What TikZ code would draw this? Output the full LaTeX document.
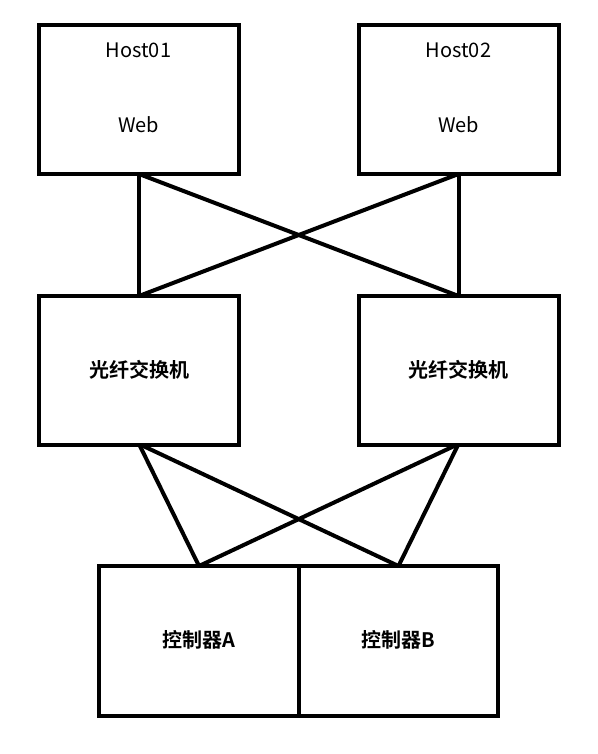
\documentclass[tikz,border=0pt]{standalone}
\usepackage{fontspec}
\setmainfont{Noto Sans CJK SC}[BoldFont={Noto Sans CJK SC Bold}]
\begin{document}
\begin{tikzpicture}[x=1pt,y=-1pt,
  box/.style={draw=black,line width=4pt,rectangle,minimum width=200pt,minimum height=149pt,inner sep=0pt,fill=white},
  wire/.style={draw=black,line width=4pt},
  lbl/.style={font=\fontsize{20}{24}\selectfont,inner sep=0pt},
  cn/.style={font=\fontsize{20}{24}\selectfont\bfseries,inner sep=0pt}]
\useasboundingbox[fill=white] (0,0) rectangle (597,754);
% wire end points
\coordinate (h1b) at (139,174);
\coordinate (h2b) at (458.5,174);
\coordinate (s1t) at (139,296);
\coordinate (s2t) at (458.5,296);
\coordinate (s1b) at (139,444);
\coordinate (s2b) at (458.5,444);
\coordinate (cat) at (199,566);
\coordinate (cbt) at (398.5,566);
\draw[wire] (h1b) -- (s1t);
\draw[wire] (h1b) -- (s2t);
\draw[wire] (h2b) -- (s1t);
\draw[wire] (h2b) -- (s2t);
\draw[wire] (s1b) -- (cat);
\draw[wire] (s1b) -- (cbt);
\draw[wire] (s2b) -- (cat);
\draw[wire] (s2b) -- (cbt);
% boxes
\node[box] (h1) at (139,99.5) {};
\node[box] (h2) at (458.5,99.5) {};
\node[box] (s1) at (139,370) {};
\node[box] (s2) at (458.5,370) {};
\node[box,minimum width=199.5pt,minimum height=150pt] (ca) at (199,641) {};
\node[box,minimum width=199.5pt,minimum height=150pt] (cb) at (398.5,641) {};
% texts
\node[lbl] (h1a) at (138.5,50) {Host01};
\node[lbl] (h1w) at (138.5,124.5) {Web};
\node[lbl] (h2a) at (458.5,50) {Host02};
\node[lbl] (h2w) at (458.5,124.5) {Web};
\node[cn] (s1l) at (139,370) {光纤交换机};
\node[cn] (s2l) at (458.5,370) {光纤交换机};
\node[cn] (cal) at (199,640) {控制器A};
\node[cn] (cbl) at (398.5,640) {控制器B};
\end{tikzpicture}
\end{document}
